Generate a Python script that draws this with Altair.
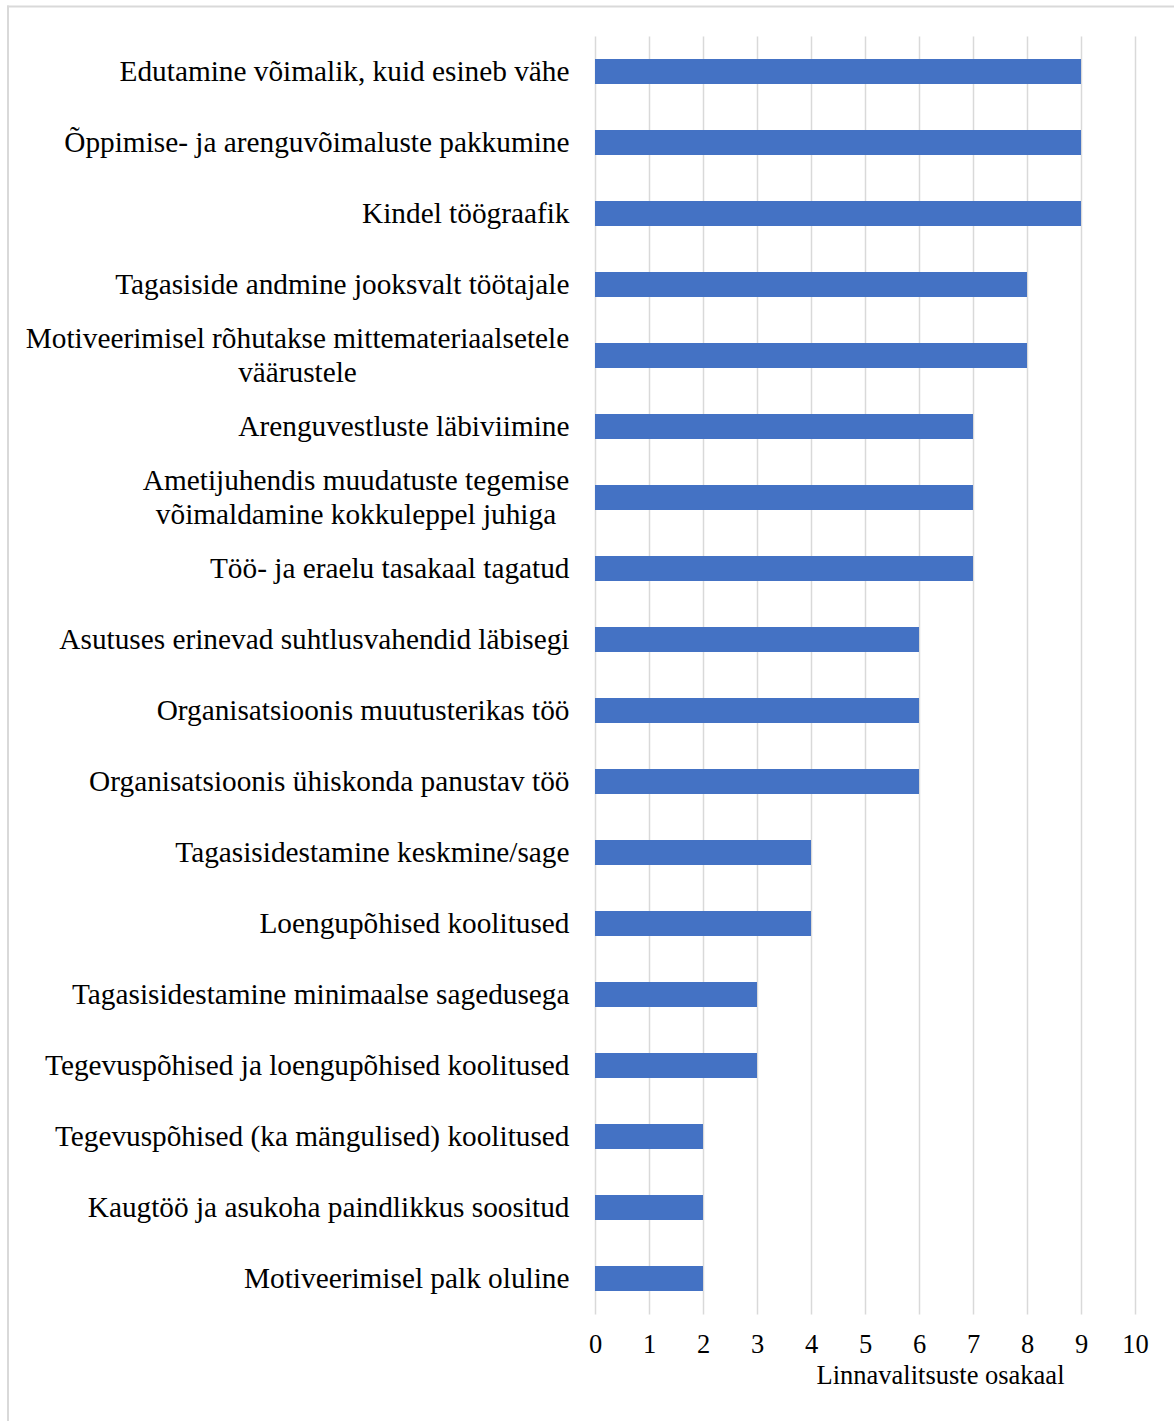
import altair as alt
import pandas as pd

categories = [
    "Edutamine võimalik, kuid esineb vähe",
    "Õppimise- ja arenguvõimaluste pakkumine",
    "Kindel töögraafik",
    "Tagasiside andmine jooksvalt töötajale",
    "Motiveerimisel rõhutakse mittemateriaalsetele\nväärustele",
    "Arenguvestluste läbiviimine",
    "Ametijuhendis muudatuste tegemise\nvõimaldamine kokkuleppel juhiga",
    "Töö- ja eraelu tasakaal tagatud",
    "Asutuses erinevad suhtlusvahendid läbisegi",
    "Organisatsioonis muutusterikas töö",
    "Organisatsioonis ühiskonda panustav töö",
    "Tagasisidestamine keskmine/sage",
    "Loengupõhised koolitused",
    "Tagasisidestamine minimaalse sagedusega",
    "Tegevuspõhised ja loengupõhised koolitused",
    "Tegevuspõhised (ka mängulised) koolitused",
    "Kaugtöö ja asukoha paindlikkus soositud",
    "Motiveerimisel palk oluline",
]
values = [9, 9, 9, 8, 8, 7, 7, 7, 6, 6, 6, 4, 4, 3, 3, 2, 2, 2]
x_ticks = list(range(0, 11))
x_title = "Linnavalitsuste osakaal"

df = pd.DataFrame({"cat": categories, "val": values})

FONT = "Liberation Serif"
LABEL_SIZE = 29.3

y_enc = alt.Y(
    "cat:N",
    sort=categories,
    scale=alt.Scale(paddingInner=0.65, paddingOuter=0.325),
    axis=alt.Axis(
        title=None,
        domain=False,
        ticks=False,
        grid=False,
        labelFont=FONT,
        labelFontSize=LABEL_SIZE,
        labelColor="#000000",
        labelPadding=26,
        labelLimit=1000,
        # wrapped (two-line) labels are drawn as centred text below
        labelExpr="indexof(datum.label, '\\n') >= 0 ? '' : datum.label",
    ),
)

bars = alt.Chart(df).mark_bar(color="#4472C4").encode(
    x=alt.X(
        "val:Q",
        scale=alt.Scale(domain=[0, 10], nice=False, zero=True),
        axis=alt.Axis(
            values=x_ticks,
            title=x_title,
            grid=True,
            gridColor="#d9d9d9",
            gridWidth=1.5,
            domain=False,
            ticks=False,
            labelFlush=False,
            labelFont=FONT,
            labelFontSize=26.5,
            labelColor="#000000",
            labelPadding=17,
            titleFont=FONT,
            titleFontSize=26.5,
            titleFontWeight="normal",
            titleColor="#000000",
            titlePadding=5,
            titleX=345,
        ),
    ),
    y=y_enc,
)

wrapped = [c for c in categories if "\n" in c]
wrapped_centres = [-297.5, -239]  # horizontal centre of each wrapped label block

text_layers = []
for c, cx in zip(wrapped, wrapped_centres):
    t = alt.Chart(df).transform_filter(alt.datum.cat == c).mark_text(
        font=FONT,
        fontSize=LABEL_SIZE,
        color="#000000",
        align="center",
        baseline="middle",
        lineBreak="\n",
        lineHeight=34,
        dy=-17,
    ).encode(
        x=alt.value(cx),
        y=alt.Y("cat:N", sort=categories),
        text="cat:N",
    )
    text_layers.append(t)

frame_df = pd.DataFrame({"k": [0]})
top_rule = alt.Chart(frame_df).mark_rule(color="#d9d9d9", strokeWidth=2).encode(
    x=alt.value(-588), x2=alt.value(579), y=alt.value(-29.5)
)
left_rule = alt.Chart(frame_df).mark_rule(color="#d9d9d9", strokeWidth=2).encode(
    x=alt.value(-587), y=alt.value(-30.5), y2=alt.value(1385)
)

chart = alt.layer(top_rule, left_rule, bars, *text_layers).properties(
    width=540,
    height=1278,
    padding={"left": 6, "top": 4, "right": 0, "bottom": 0},
    background="#ffffff",
).configure_view(stroke=None)

chart.save("out.html", embed_options={"renderer": "svg", "actions": False})
